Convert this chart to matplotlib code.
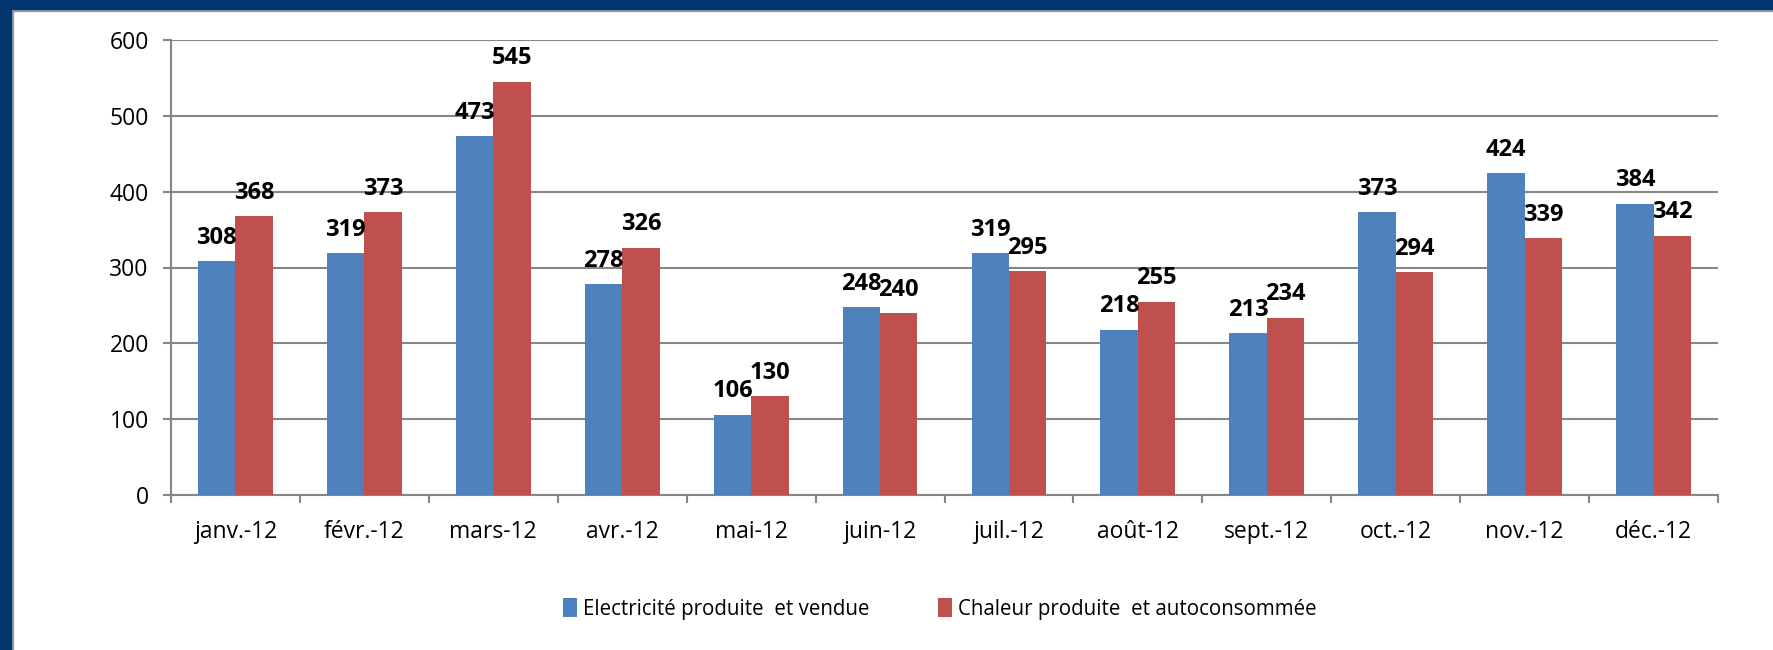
import matplotlib.pyplot as plt
from matplotlib.patches import Rectangle
import numpy as np

months = ['janv.-12', 'févr.-12', 'mars-12', 'avr.-12', 'mai-12', 'juin-12',
          'juil.-12', 'août-12', 'sept.-12', 'oct.-12', 'nov.-12', 'déc.-12']
electricite = [308, 319, 473, 278, 106, 248, 319, 218, 213, 373, 424, 384]
chaleur = [368, 373, 545, 326, 130, 240, 295, 255, 234, 294, 339, 342]
series_labels = ['Electricité produite  et vendue', 'Chaleur produite  et autoconsommée']
yticks = [0, 100, 200, 300, 400, 500, 600]

color_elec = '#4F81BD'
color_chal = '#C0504D'
grid_color = '#868686'

plt.rcParams['font.family'] = ['Open Sans', 'DejaVu Sans']

fig = plt.figure(figsize=(17.73, 6.5), dpi=100)
ax = fig.add_axes([171 / 1773, 1 - 495 / 650, (1718 - 171) / 1773, (495 - 40) / 650])

x = np.arange(len(months))
width = 0.29
b1 = ax.bar(x - width / 2, electricite, width, color=color_elec, label=series_labels[0], zorder=3)
b2 = ax.bar(x + width / 2, chaleur, width, color=color_chal, label=series_labels[1], zorder=3)

# value labels above each bar
for bars in (b1, b2):
    for rect in bars:
        h = rect.get_height()
        ax.annotate(f'{h:.0f}', (rect.get_x() + rect.get_width() / 2, h),
                    xytext=(0, 12.5), textcoords='offset points',
                    ha='center', va='baseline', fontsize=17, fontweight='bold', zorder=4)

ax.set_xlim(-0.5, len(months) - 0.5)
ax.set_ylim(0, 600)
ax.set_yticks(yticks)
ax.set_yticklabels([str(v) for v in yticks], fontsize=16.5)
ax.yaxis.grid(True, color=grid_color, linewidth=1.5, zorder=0)
ax.tick_params(axis='y', length=6, width=1.5, color=grid_color, pad=10)

# month labels centred, tick marks between categories
ax.set_xticks(x)
ax.set_xticklabels(months, fontsize=16.5)
ax.tick_params(axis='x', which='major', length=0, pad=18)
ax.set_xticks(np.arange(-0.5, len(months)), minor=True)
ax.tick_params(axis='x', which='minor', length=6, width=1.5, color=grid_color)

for side in ('top', 'right'):
    ax.spines[side].set_visible(False)
for side in ('left', 'bottom'):
    ax.spines[side].set_color(grid_color)
    ax.spines[side].set_linewidth(1.5)

fig.legend(loc='center', bbox_to_anchor=(0.53, 1 - 609 / 650), ncol=2, frameon=False,
           fontsize=14.8, handlelength=0.7, handleheight=1.0, handletextpad=0.3,
           columnspacing=3.3)

# dark blue frame on top and left
fig.patches.append(Rectangle((0, 1 - 9 / 650), 1, 9 / 650, transform=fig.transFigure,
                             color='#02366F', zorder=10))
fig.patches.append(Rectangle((0, 0), 11 / 1773, 1, transform=fig.transFigure,
                             color='#02366F', zorder=10))
fig.patches.append(Rectangle((11 / 1773, 1 - 11 / 650), 1, 2 / 650, transform=fig.transFigure,
                             color='#A0A0A0', zorder=9))
fig.patches.append(Rectangle((11 / 1773, 0), 2 / 1773, 1, transform=fig.transFigure,
                             color='#A0A0A0', zorder=9))

fig.savefig('out.png', dpi=100)
